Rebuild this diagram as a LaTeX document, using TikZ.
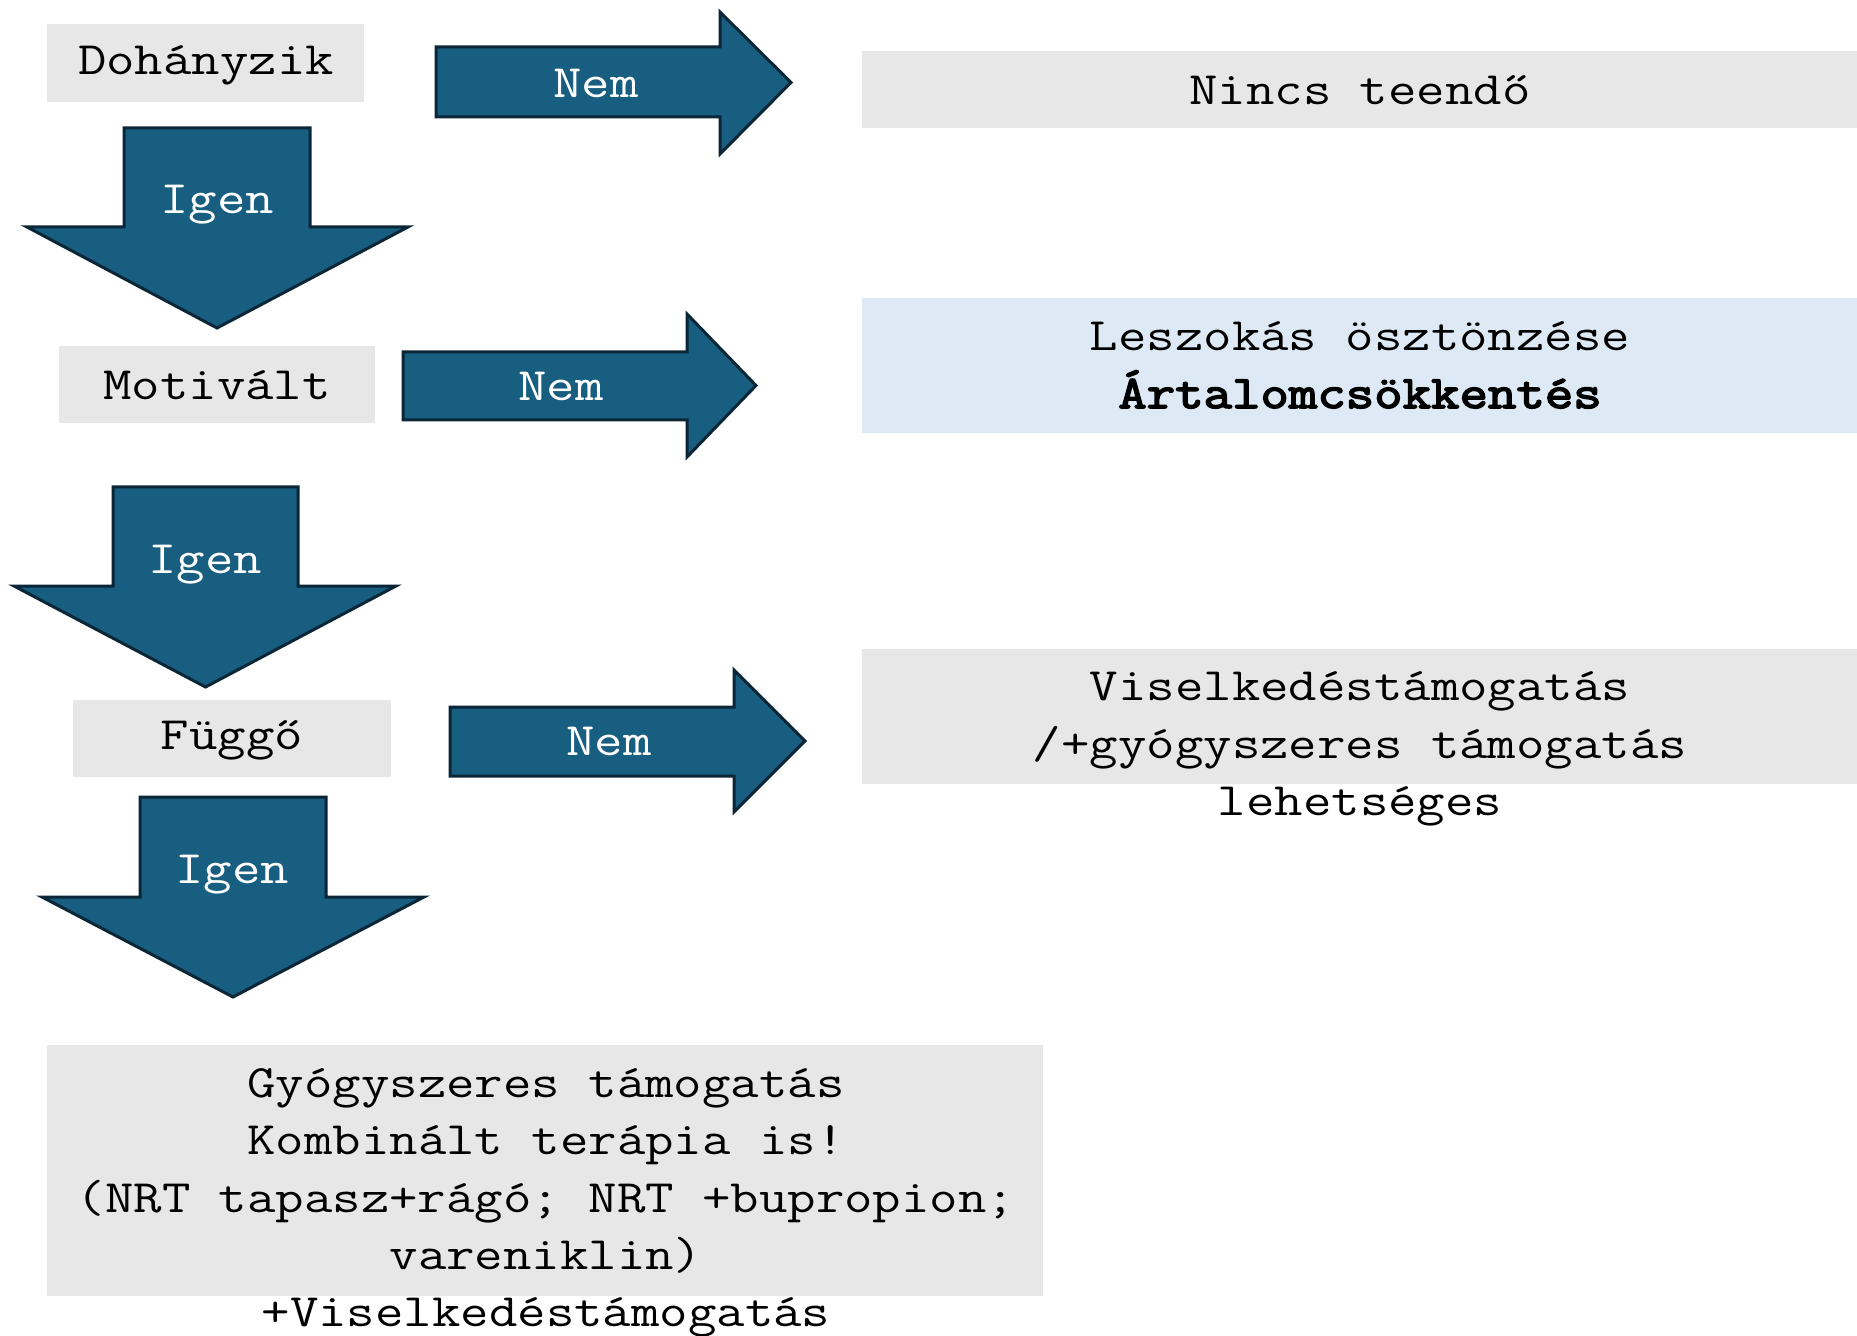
\documentclass[tikz,border=0pt]{standalone}
\usepackage{fontspec}
\setmainfont{Latin Modern Mono}[FakeStretch=1.19]
\newfontfamily\boldmono{Latin Modern Mono}[FakeStretch=1.19, FakeBold=3.5]
\definecolor{arrowfill}{RGB}{23,94,129}
\definecolor{arrowline}{RGB}{10,38,55}
\definecolor{greybox}{RGB}{231,231,231}
\definecolor{bluebox}{RGB}{221,234,246}
\tikzset{
  blockarrow/.style={fill=arrowfill, draw=arrowline, line width=1.5pt, line join=miter},
  greyfill/.style={fill=greybox, draw=none},
  bluefill/.style={fill=bluebox, draw=none},
  txt/.style={font=\fontsize{23.2}{28.7}\selectfont, inner sep=0pt, align=center, text=black},
  arrowtxt/.style={font=\fontsize{23.2}{28.7}\selectfont, inner sep=0pt, text=white}
}
\begin{document}
\begin{tikzpicture}[x=0.5pt,y=-0.5pt]
\useasboundingbox[fill=white] (0,0) rectangle (1857,1336);

% boxes
\fill[greyfill] (47,24) rectangle (364,102);
\fill[greyfill] (59,346) rectangle (375,423);
\fill[greyfill] (73,700) rectangle (391,777);
\fill[greyfill] (862,51) rectangle (1857,128);
\fill[bluefill] (862,298) rectangle (1857,433);
\fill[greyfill] (862,649) rectangle (1857,784);
\fill[greyfill] (47,1045) rectangle (1043,1296);

% box texts
\node[txt] (doh) at (206,65) {Dohányzik};
\node[txt] (mot) at (217,385) {Motivált};
\node[txt] (fug) at (232,740) {Függő};
\node[txt] (nincs) at (1360,90) {Nincs teendő};
\node[txt] (lesz) at (1360,365) {Leszokás ösztönzése\\{\boldmono Ártalomcsökkentés}};
\node[txt] (visel) at (1360,749) {Viselkedéstámogatás\\/+gyógyszeres támogatás\\lehetséges};
\node[txt] (gyogy) at (546,1203) {Gyógyszeres támogatás\\Kombinált terápia is!\\(NRT tapasz+rágó; NRT +bupropion;\\vareniklin)\\+Viselkedéstámogatás};

% Nem arrows (right)
\draw[blockarrow] (436,47) -- (720,47) -- (720,12) -- (791,82.5) -- (720,154) -- (720,117) -- (436,117) -- cycle;
\node[arrowtxt] (nem1) at (596,83) {Nem};
\draw[blockarrow] (403,352) -- (687,352) -- (687,314) -- (756,385.5) -- (687,457) -- (687,420) -- (403,420) -- cycle;
\node[arrowtxt] (nem2) at (561,386) {Nem};
\draw[blockarrow] (450,707) -- (734,707) -- (734,670) -- (805,741) -- (734,812) -- (734,776) -- (450,776) -- cycle;
\node[arrowtxt] (nem3) at (609,741) {Nem};

% Igen arrows (down)
\draw[blockarrow] (124,128) -- (310,128) -- (310,227) -- (408,227) -- (217,328) -- (27,227) -- (124,227) -- cycle;
\node[arrowtxt] (igen1) at (217,205) {Igen};
\draw[blockarrow] (113,487) -- (298,487) -- (298,586) -- (396,586) -- (205.5,687) -- (14,586) -- (113,586) -- cycle;
\node[arrowtxt] (igen2) at (205,565) {Igen};
\draw[blockarrow] (140,797) -- (326,797) -- (326,897) -- (424,897) -- (233,997) -- (42,897) -- (140,897) -- cycle;
\node[arrowtxt] (igen3) at (232,875) {Igen};
\end{tikzpicture}
\end{document}
